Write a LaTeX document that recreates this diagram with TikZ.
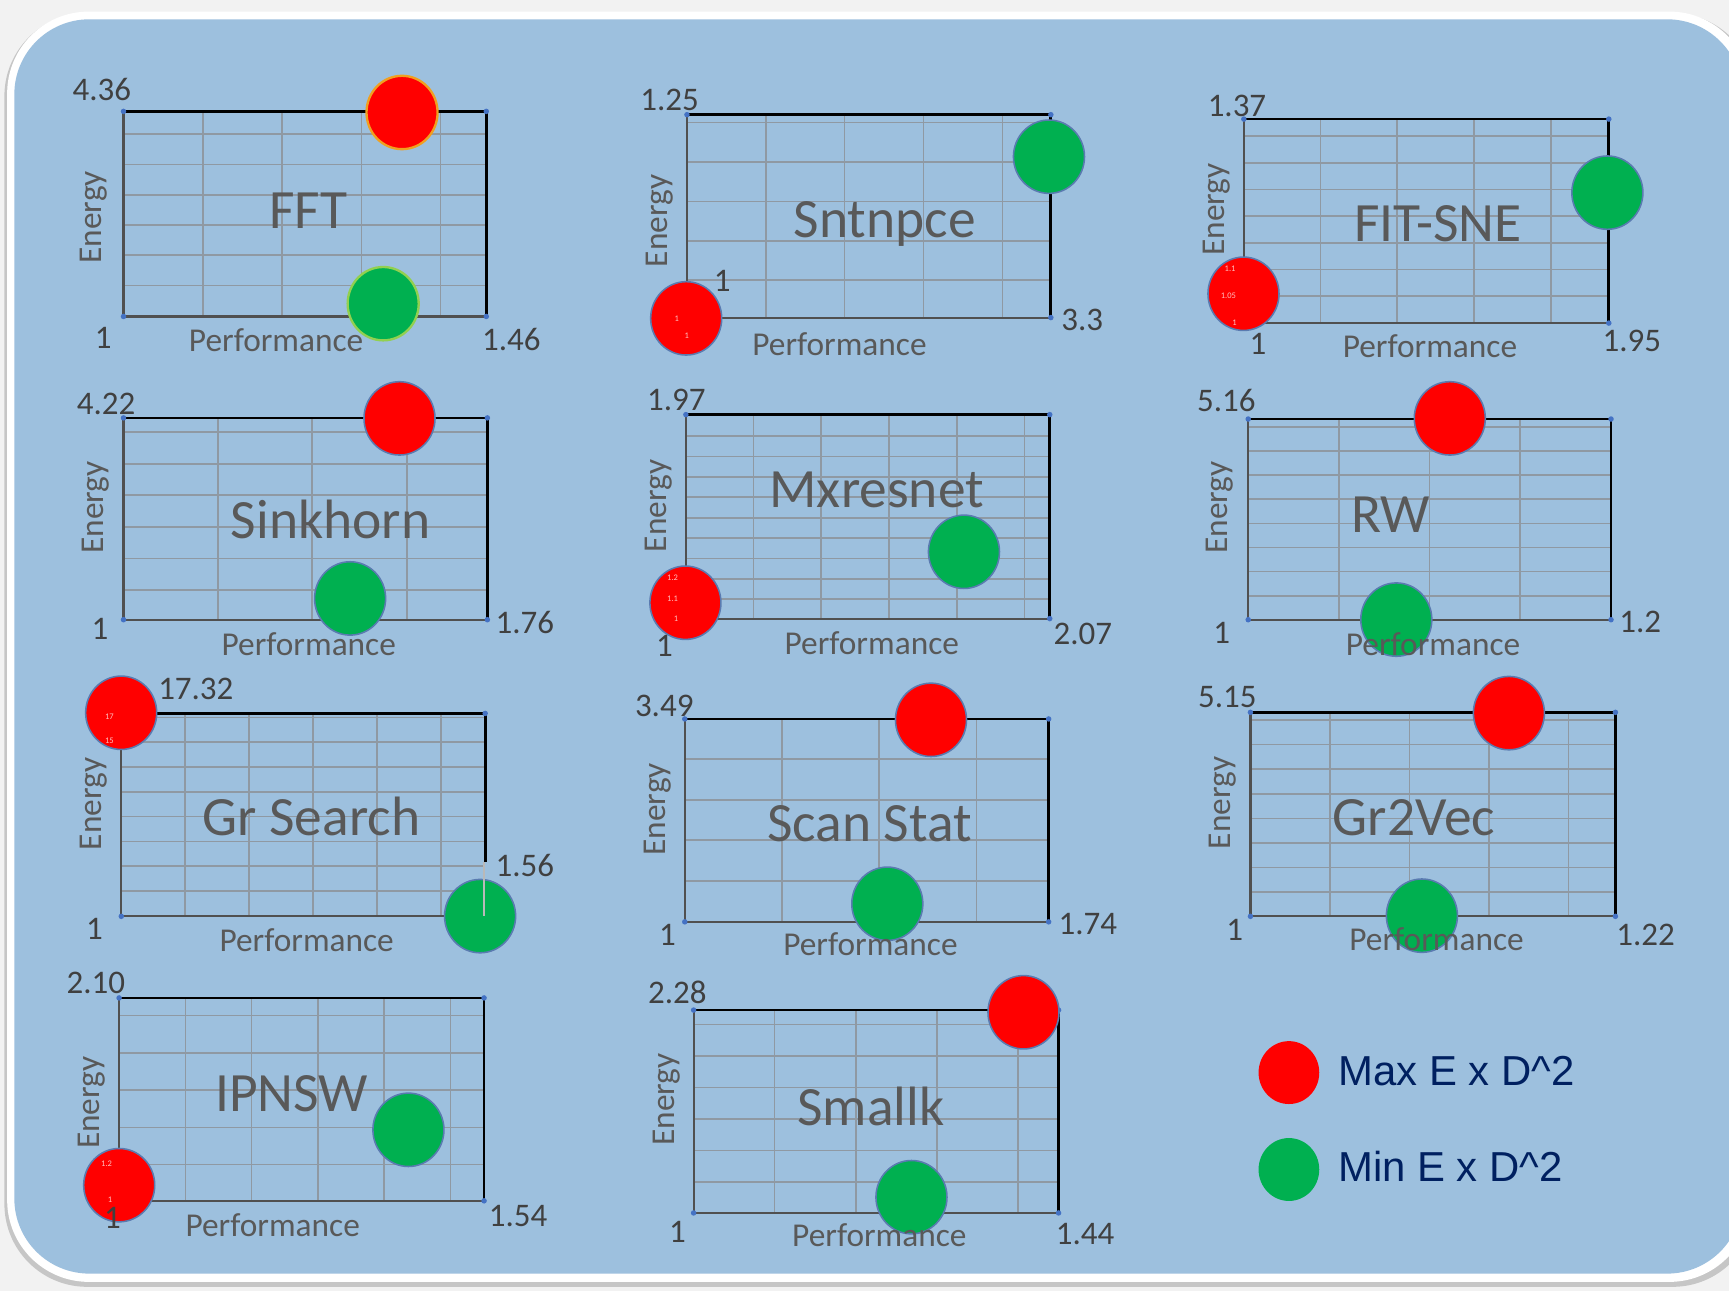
\documentclass[tikz,border=0pt]{standalone}
\usepackage{fontspec}
\setmainfont{Carlito}
\newfontfamily\legendfont{Liberation Sans}
\usetikzlibrary{shapes.geometric}
\definecolor{paper}{HTML}{F2F2F2}
\definecolor{panel}{HTML}{9DC0DE}
\definecolor{gridc}{HTML}{8F99A3}
\definecolor{axc}{HTML}{505050}
\definecolor{labc}{HTML}{595959}
\definecolor{numc}{HTML}{404040}
\definecolor{maxc}{HTML}{FF0000}
\definecolor{minc}{HTML}{00B050}
\definecolor{rim}{HTML}{5A7BB0}
\definecolor{dotc}{HTML}{4472C4}
\definecolor{navy}{HTML}{002060}
\definecolor{maxrim}{HTML}{F0A020}
\definecolor{minrim}{HTML}{92D050}

\begin{document}
\begin{tikzpicture}[x=0.01cm,y=-0.01cm,
    gridln/.style={gridc,line width=0.43pt},
    baseln/.style={axc,line width=0.55pt},
    topln/.style={black,line width=0.7pt},
    ttl/.style={font=\fontsize{14.3}{16}\selectfont,text=labc,anchor=base},
    axl/.style={font=\fontsize{8.6}{10}\selectfont,text=labc},
    num/.style={font=\fontsize{8.5}{10}\selectfont,text=numc},
    dotbase/.style={ellipse,minimum width=0.644cm,minimum height=0.665cm,
      inner sep=0pt,draw=rim,line width=0.4pt},
    maxdot/.style={dotbase,fill=maxc},
    mindot/.style={dotbase,fill=minc},
    tiny/.style={font=\fontsize{2.2}{2.5}\selectfont,text=red!25!white,inner sep=0pt},
    legtxt/.style={font=\legendfont\fontsize{10.8}{13}\selectfont,text=navy,
      anchor=base west,inner sep=0pt}]

  \useasboundingbox (0,0) rectangle (1568,1170.8);
  \clip (0,0) rectangle (1568,1170.8);
  \fill[paper] (0,0) rectangle (1568,1170.8);
  \fill[gray!45,rounded corners=0.75cm] (4,12) rectangle (1592,1167);
  \fill[white,rounded corners=0.74cm] (6.5,10.5) rectangle (1588,1162.5);
  \fill[panel,rounded corners=0.68cm] (13,17.5) rectangle (1580,1155);

  % frames and grids: name/left/top/right/bottom/right end/cols/dx/offset/dy/rows
  \foreach \nm/\xl/\yt/\xr/\yb/\yr/\nv/\dx/\oy/\dy/\nh in {
      fft/112/101/441/287/287/4/71.9/20.8/27.4/6,
      snt/623/104/953/288/288/4/71.5/7/35.8/5,
      fit/1128/108/1459/293/293/4/69.6/15.4/24.2/7,
      sink/112/379/442/562/562/3/85.6/13/28.6/6,
      mxr/622/376/952/561/561/5/61.4/19.5/18.5/9,
      rw/1132/380/1461/562/562/3/82.2/7/21.9/8,
      grs/110/647/440/831/782/5/58/3.6/22.5/8,
      scan/621/652/951/836/836/3/88.2/36.4/36.8/4,
      g2v/1134/646/1465/831/831/4/72.1/7/22.3/8,
      ipn/108/905/439/1089/1089/5/60.1/16/33.8/5,
      smk/629/916/960/1100/1100/4/73.5/13/28.6/6}{
    \foreach \k in {1,...,\nv}
      \draw[gridln] ({\xl+\k*\dx},\yt) -- ({\xl+\k*\dx},\yb);
    \foreach \k in {1,...,\nh}
      \draw[gridln] (\xl,{\yt+\oy+(\k-1)*\dy}) -- (\xr,{\yt+\oy+(\k-1)*\dy});
    \draw[baseln] (\xl,\yt) -- (\xl,\yb) -- (\xr,\yb);
    \draw[topln] (\xl,\yt) -- (\xr,\yt) -- (\xr,\yr);
    \fill[dotc] (\xl,\yt) circle (2.5) (\xr,\yt) circle (2.5)
      (\xl,\yb) circle (2.5) (\xr,\yb) circle (2.5);
  }

  % max / min points
  \node[maxdot,draw=maxrim,line width=0.6pt] (fft-max) at (364.6,102) {};
  \node[mindot,draw=minrim,line width=0.6pt] (fft-min) at (347.5,275.4) {};
  \node[maxdot] (snt-max) at (622.3,288.7) {};
  \node[mindot] (snt-min) at (951.3,142.1) {};
  \node[maxdot] (fit-max) at (1127.7,266.4) {};
  \node[mindot] (fit-min) at (1457.7,174.7) {};
  \node[maxdot] (sink-max) at (362.3,379.4) {};
  \node[mindot] (sink-min) at (317.5,542.7) {};
  \node[maxdot] (mxr-max) at (621.6,546.6) {};
  \node[mindot] (mxr-min) at (874.2,500.4) {};
  \node[maxdot] (rw-max) at (1314.8,379.4) {};
  \node[mindot] (rw-min) at (1266.3,561.9) {};
  \node[maxdot] (grs-max) at (109.9,646.4) {};
  \node[mindot] (grs-min) at (435.4,830.8) {};
  \node[maxdot] (scan-max) at (844.3,652.8) {};
  \node[mindot] (scan-min) at (804.7,819.6) {};
  \node[maxdot] (g2v-max) at (1368.4,646.7) {};
  \node[mindot] (g2v-min) at (1289.5,830.4) {};
  \node[maxdot] (ipn-max) at (108.1,1074.8) {};
  \node[mindot] (ipn-min) at (370.4,1024.6) {};
  \node[maxdot] (smk-max) at (928.2,918) {};
  \node[mindot] (smk-min) at (826.6,1085.7) {};

  \coordinate (grs-cut) at (439,782);
  \draw[gray!55!white,line width=0.35pt] (grs-cut) -- (grs-cut |- grs-min.center);

  % small print inside the red points
  \node[tiny] (snt-a) at (613.7,289.3) {1};
  \node[tiny] (snt-b) at (622.8,304.8) {1};
  \node[tiny] (fit-a) at (1115.6,244) {1.1};
  \node[tiny] (fit-b) at (1114,268.5) {1.05};
  \node[tiny] (fit-c) at (1119.5,292.7) {1};
  \node[tiny] (mxr-a) at (610,524) {1.2};
  \node[tiny] (mxr-b) at (610,542.7) {1.1};
  \node[tiny] (mxr-c) at (613,561.4) {1};
  \node[tiny] (grs-a) at (99.2,650) {17};
  \node[tiny] (grs-b) at (99.2,672.1) {15};
  \node[tiny] (ipn-a) at (96.7,1055.7) {1.2};
  \node[tiny] (ipn-b) at (99.8,1088.4) {1};

  % titles
  \node[ttl] (fft-t) at (279.5,207) {FFT};
  \node[ttl] (snt-t) at (802.4,215.6) {Sntnpce};
  \node[ttl] (fit-t) at (1304,219.2) {FIT-SNE};
  \node[ttl] (sink-t) at (299.9,488.3) {Sinkhorn};
  \node[ttl] (mxr-t) at (795.1,460.4) {Mxresnet};
  \node[ttl] (rw-t) at (1261.2,483.1) {RW};
  \node[ttl] (grs-t) at (282.4,757.9) {Gr Search};
  \node[ttl] (scan-t) at (788.5,763.4) {Scan Stat};
  \node[ttl] (g2v-t) at (1282.4,757.9) {Gr2Vec};
  \node[ttl] (ipn-t) at (264.5,1008.3) {IPNSW};
  \node[ttl] (smk-t) at (789.9,1020.4) {Smallk};

  % axis names
  \foreach \nm/\ex/\ey/\px/\py in {
      fft/84.5/197/250.4/319, snt/597.9/200.3/761.3/322,
      fit/1103.6/190/1296.8/324.1, sink/87.2/460.3/280/594.7,
      mxr/597.1/458.8/790.6/593.2, rw/1105.8/460.3/1299.6/594,
      grs/85.1/729.1/278.1/862.6, scan/596/733.9/789.4/866.8,
      g2v/1109.1/728.2/1302.8/861.7, ipn/83.1/1000/247.3/1121.7,
      smk/604.2/997.2/797.5/1130.7}{
    \node[axl,rotate=90] (\nm-e) at (\ex,\ey) {Energy};
    \node[axl,anchor=base] (\nm-p) at (\px,\py) {Performance};
  }

  % axis values
  \node[num] (fft-hi) at (92.3,80.9) {4.36};
  \node[num] (fft-lo) at (93.7,306) {1};
  \node[num] (fft-px) at (463.7,307.6) {1.46};
  \node[num] (snt-hi) at (607.2,91) {1.25};
  \node[num] (snt-lo) at (655,254.4) {1};
  \node[num] (snt-px) at (981.5,290.5) {3.3};
  \node[num] (fit-hi) at (1121.8,96) {1.37};
  \node[num] (fit-lo) at (1140.9,311.7) {1};
  \node[num] (fit-px) at (1479.9,309.4) {1.95};
  \node[num] (sink-hi) at (96.3,366.3) {4.22};
  \node[num] (sink-lo) at (90.7,570.3) {1};
  \node[num] (sink-px) at (475.9,564.6) {1.76};
  \node[num] (mxr-hi) at (613.3,362.3) {1.97};
  \node[num] (mxr-lo) at (602.7,585.5) {1};
  \node[num] (mxr-px) at (982.1,574.9) {2.07};
  \node[num] (rw-hi) at (1112.1,363.3) {5.16};
  \node[num] (rw-lo) at (1108,574.4) {1};
  \node[num] (rw-px) at (1487.5,564.3) {1.2};
  \node[num] (grs-hi) at (177.6,624.8) {17.32};
  \node[num] (grs-lo) at (85.7,842) {1};
  \node[num] (grs-px) at (475.9,784.6) {1.56};
  \node[num] (scan-hi) at (602.4,639.9) {3.49};
  \node[num] (scan-lo) at (605.3,848) {1};
  \node[num] (scan-px) at (986.5,837.9) {1.74};
  \node[num] (g2v-hi) at (1113.1,632.2) {5.15};
  \node[num] (g2v-lo) at (1119.7,843.2) {1};
  \node[num] (g2v-px) at (1492.3,848) {1.22};
  \node[num] (ipn-hi) at (86.9,891.6) {2.10};
  \node[num] (ipn-lo) at (102,1104.6) {1};
  \node[num] (ipn-px) at (469.8,1102.8) {1.54};
  \node[num] (smk-hi) at (614.2,899.9) {2.28};
  \node[num] (smk-lo) at (614.5,1117.6) {1};
  \node[num] (smk-px) at (984.1,1119.1) {1.44};

  % key
  \node[maxdot,draw=none,minimum width=0.55cm,minimum height=0.57cm] (key-max) at (1168.9,972.7) {};
  \node[mindot,draw=none,minimum width=0.55cm,minimum height=0.57cm] (key-min) at (1168.9,1060.6) {};
  \node[legtxt] (key-maxt) at (1213,984) {Max E x D\textasciicircum 2};
  \node[legtxt] (key-mint) at (1213,1071.8) {Min E x D\textasciicircum 2};
\end{tikzpicture}
\end{document}
